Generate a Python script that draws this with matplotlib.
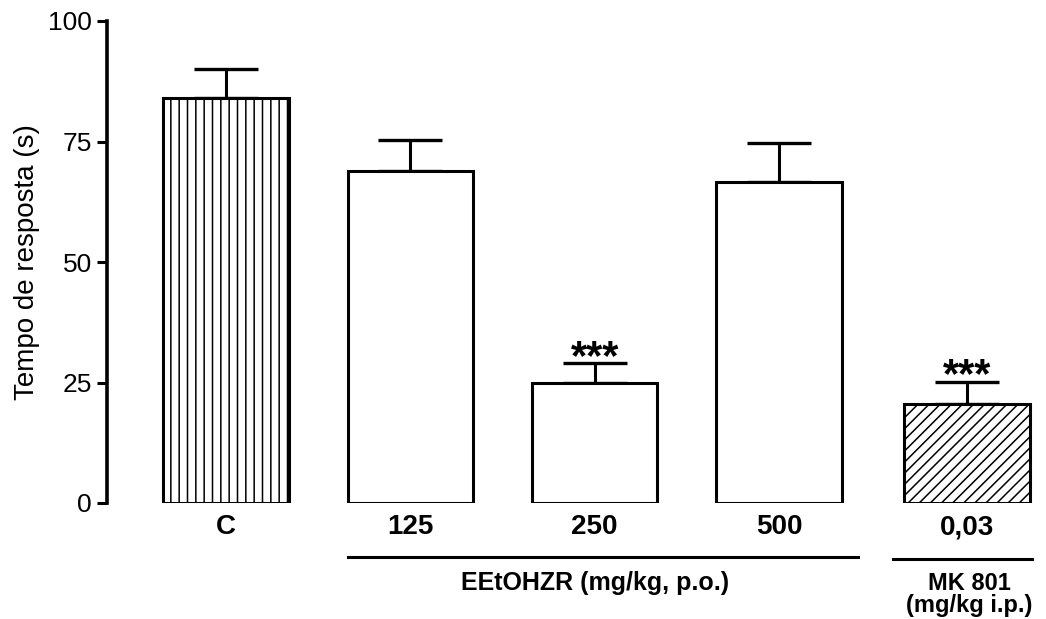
import numpy as np
import matplotlib.pyplot as plt

plt.rcParams['font.family'] = ['Liberation Sans', 'DejaVu Sans']
plt.rcParams['hatch.linewidth'] = 1.1

# data
groups = ['C', '125', '250', '500', '0,03']
means = [84, 68.8, 24.8, 66.6, 20.5]
sem = [6, 6.6, 4.2, 8.0, 4.6]
hatches = ['||', '', '', '', '///']
stars = ['', '', '***', '', '***']
yticks = [0, 25, 50, 75, 100]

fig = plt.figure(figsize=(10.46, 6.19), dpi=100)
ax = fig.add_axes([107 / 1046, 1 - 503 / 619, (1040 - 107) / 1046, (503 - 21) / 619])

x = np.array([0, 1, 2, 3, 4.02])
ax.bar(x, means, width=0.68, color='white', edgecolor='black', linewidth=2.2,
       hatch=hatches, zorder=2)
ax.errorbar(x, means, yerr=[np.zeros(len(sem)), sem], fmt='none', ecolor='black',
            elinewidth=2.2, capsize=23, capthick=2.4, zorder=1)

for xi, m, s, st in zip(x, means, sem, stars):
    if st:
        ax.text(xi, m + s - 3.0, st, ha='center', va='bottom', fontsize=30,
                fontweight='bold')

ax.set_xlim(-0.645, 4.415)
ax.set_ylim(0, 100)
ax.set_yticks(yticks)
ax.set_xticks([])
ax.tick_params(axis='y', direction='out', length=7, width=2.2, labelsize=19, pad=4)
ax.set_ylabel('Tempo de resposta (s)', fontsize=20, labelpad=6)
for side in ['top', 'right', 'bottom']:
    ax.spines[side].set_visible(False)
ax.spines['left'].set_linewidth(2.6)

# group labels under the bars
tr = ax.get_xaxis_transform()
for xi, g in zip(x, groups):
    ax.text(xi, -0.05, g, transform=tr, ha='center', va='center', fontsize=20,
            fontweight='bold', clip_on=False)

ax.plot([0.66, 3.43], [-0.112, -0.112], transform=tr, color='black', lw=2.2,
        clip_on=False)
ax.text(2.0, -0.167, 'EEtOHZR (mg/kg, p.o.)', transform=tr, ha='center',
        va='center', fontsize=18, fontweight='bold')
ax.plot([3.62, 4.37], [-0.116, -0.116], transform=tr, color='black', lw=2.2,
        clip_on=False)
ax.text(4.03, -0.168, 'MK 801', transform=tr, ha='center', va='center',
        fontsize=17, fontweight='bold')
ax.text(4.03, -0.213, '(mg/kg i.p.)', transform=tr, ha='center', va='center',
        fontsize=17, fontweight='bold')

plt.savefig('out.png', dpi=100)
